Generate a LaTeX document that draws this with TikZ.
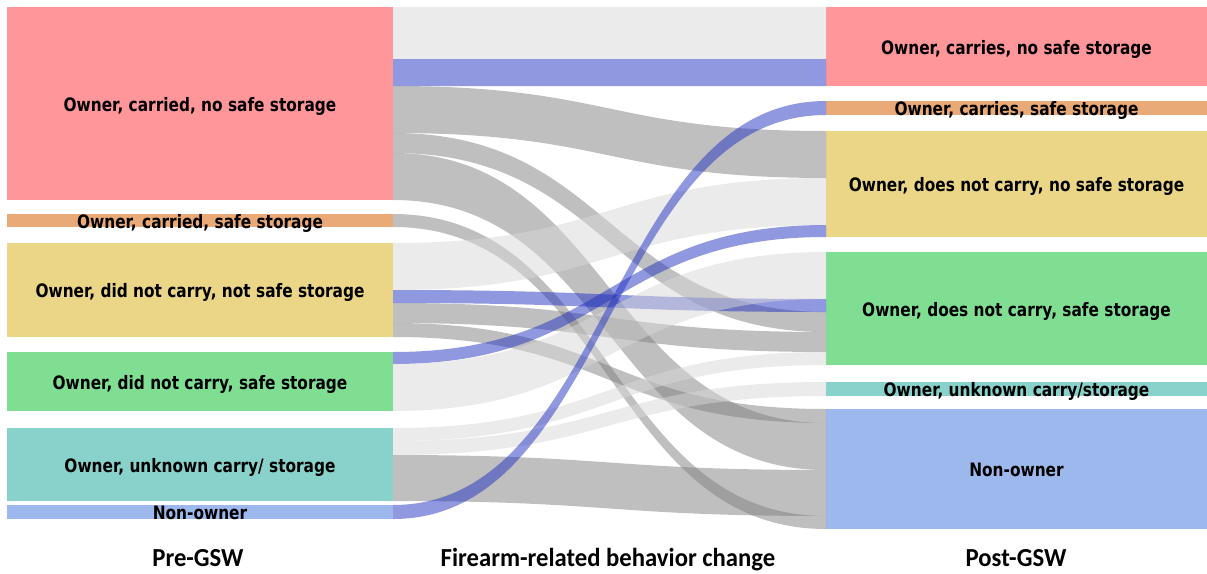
\documentclass[tikz,border=0pt]{standalone}
\usepackage{fontspec}
\newfontfamily\lblfont[FakeStretch=0.83]{DejaVu Sans}
\newfontfamily\ttlfont[FakeStretch=0.95]{Carlito}
\usetikzlibrary{calc}

\definecolor{ownRed}{HTML}{FF979A}
\definecolor{ownOrange}{HTML}{E9AA78}
\definecolor{ownYellow}{HTML}{EBD587}
\definecolor{ownGreen}{HTML}{80DE92}
\definecolor{ownTeal}{HTML}{88D2CB}
\definecolor{nonBlue}{HTML}{9DB8EC}
\definecolor{bandGrey}{HTML}{808080}
\definecolor{bandLight}{HTML}{D7D7D7}
\definecolor{bandBlue}{HTML}{2131C1}

\tikzset{
  prebar/.style={rectangle,inner sep=0pt,outer sep=0pt,anchor=north west,minimum width=386pt},
  postbar/.style={rectangle,inner sep=0pt,outer sep=0pt,anchor=north west,minimum width=381pt},
  lbl/.style={inner sep=0pt,yshift=-1pt,text height=13.5pt,text depth=0pt,font=\lblfont\bfseries\fontsize{18.5}{20}\selectfont},
  ttl/.style={inner sep=0pt,text height=17pt,text depth=0pt,font=\ttlfont\bfseries\fontsize{26}{28}\selectfont},
  grey band/.style={fill=bandGrey,fill opacity=0.5},
  light band/.style={fill=bandLight,fill opacity=0.5},
  blue band/.style={fill=bandBlue,fill opacity=0.5}
}

% #1 source, #2 offset, #3 width, #4 target, #5 offset, #6 style
\newcommand{\band}[6]{%
  \coordinate (s1) at ($(#1.north east)+(0,#2)$);
  \coordinate (s2) at ($(#1.north east)+(0,#2+#3)$);
  \coordinate (t1) at ($(#4.north west)+(0,#5)$);
  \coordinate (t2) at ($(#4.north west)+(0,#5+#3)$);
  \fill[#6] (s1) .. controls (mid |- s1) and (mid |- t1) .. (t1) -- (t2)
    .. controls (mid |- t2) and (mid |- s2) .. (s2) -- cycle;}

\begin{document}
\begin{tikzpicture}[x=1pt,y=-1pt]
\useasboundingbox (0,0) rectangle (1207,573);

% Pre-GSW
\node[prebar,fill=ownRed,minimum height=193pt] (pre1) at (7,7) {};
\node[prebar,fill=ownOrange,minimum height=13pt] (pre2) at (7,214) {};
\node[prebar,fill=ownYellow,minimum height=94pt] (pre3) at (7,243) {};
\node[prebar,fill=ownGreen,minimum height=59pt] (pre4) at (7,352) {};
\node[prebar,fill=ownTeal,minimum height=73pt] (pre5) at (7,428) {};
\node[prebar,fill=nonBlue,minimum height=14pt] (pre6) at (7,505) {};

% Post-GSW
\node[postbar,fill=ownRed,minimum height=79pt] (post1) at (826,7) {};
\node[postbar,fill=ownOrange,minimum height=14pt] (post2) at (826,101) {};
\node[postbar,fill=ownYellow,minimum height=106pt] (post3) at (826,131) {};
\node[postbar,fill=ownGreen,minimum height=113pt] (post4) at (826,252) {};
\node[postbar,fill=ownTeal,minimum height=14pt] (post5) at (826,382) {};
\node[postbar,fill=nonBlue,minimum height=120pt] (post6) at (826,409) {};

\coordinate (mid) at (609.5,0);

% Links
\band{pre1}{0}{52}{post1}{0}{light band}
\band{pre1}{52}{27}{post1}{52}{blue band}
\band{pre1}{79}{47}{post3}{0}{grey band}
\band{pre1}{126}{20}{post4}{60}{grey band}
\band{pre1}{146}{47}{post6}{14}{grey band}
\band{pre2}{0}{13}{post6}{107}{grey band}
\band{pre3}{0}{47}{post3}{47}{light band}
\band{pre3}{47}{13}{post4}{47}{blue band}
\band{pre3}{60}{20}{post4}{80}{grey band}
\band{pre3}{80}{14}{post6}{0}{grey band}
\band{pre4}{0}{12}{post3}{94}{blue band}
\band{pre4}{12}{47}{post4}{0}{light band}
\band{pre5}{0}{13}{post4}{100}{light band}
\band{pre5}{13}{14}{post5}{0}{light band}
\band{pre5}{27}{46}{post6}{61}{grey band}
\band{pre6}{0}{14}{post2}{0}{blue band}

% Labels
\node[lbl] (preT1) at (pre1) {Owner, carried, no safe storage};
\node[lbl] (preT2) at (pre2) {Owner, carried, safe storage};
\node[lbl] (preT3) at (pre3) {Owner, did not carry, not safe storage};
\node[lbl] (preT4) at (pre4) {Owner, did not carry, safe storage};
\node[lbl] (preT5) at (pre5) {Owner, unknown carry/ storage};
\node[lbl] (preT6) at (pre6) {Non-owner};
\node[lbl] (postT1) at (post1) {Owner, carries, no safe storage};
\node[lbl] (postT2) at (post2) {Owner, carries, safe storage};
\node[lbl] (postT3) at (post3) {Owner, does not carry, no safe storage};
\node[lbl] (postT4) at (post4) {Owner, does not carry, safe storage};
\node[lbl] (postT5) at (post5) {Owner, unknown carry/storage};
\node[lbl] (postT6) at (post6) {Non-owner};

% Axis titles
\node[ttl] (preTitle) at (198,558) {Pre-GSW};
\node[ttl] (midTitle) at (608,558) {Firearm-related behavior change};
\node[ttl] (postTitle) at (1016,558) {Post-GSW};
\end{tikzpicture}
\end{document}
